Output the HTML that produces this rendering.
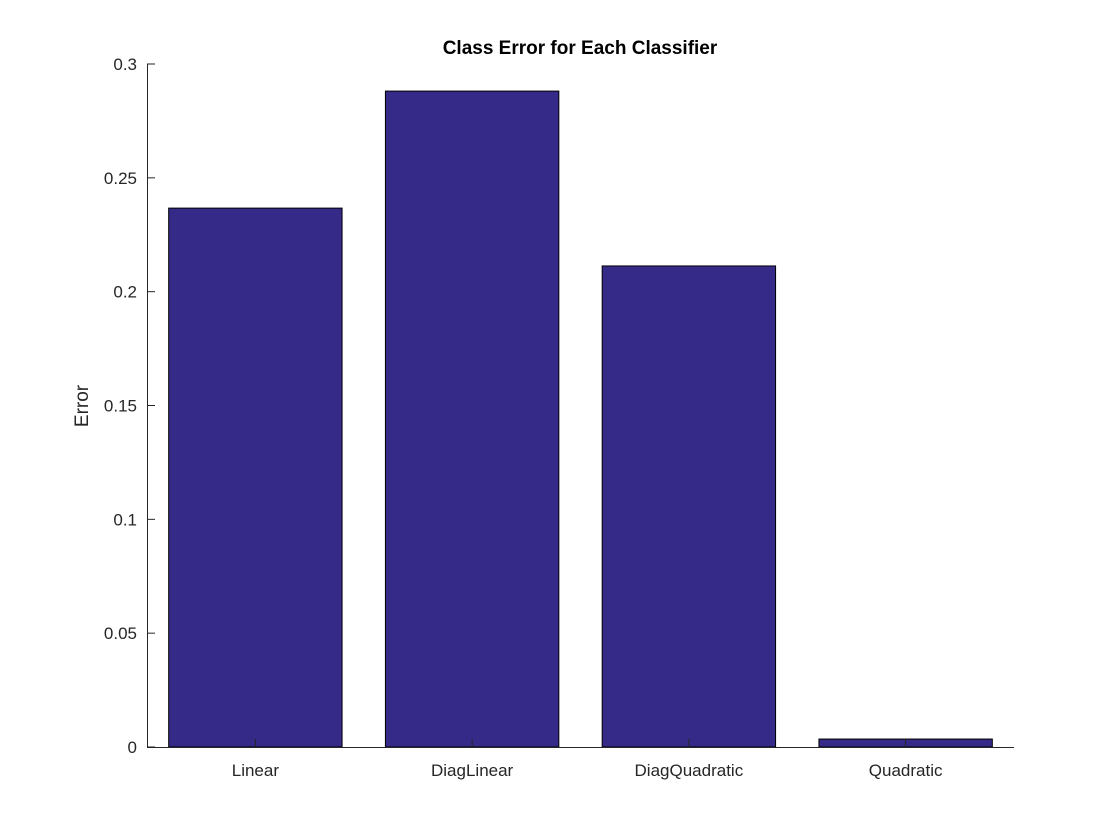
<!DOCTYPE html>
<html><head><meta charset="utf-8"><style>
body{margin:0;background:#fff;}
svg{display:block;font-family:"Liberation Sans",Arial,sans-serif;}
</style></head><body>
<svg id="chart" width="1120" height="840" viewBox="0 0 1120 840" xmlns="http://www.w3.org/2000/svg">
<rect width="1120" height="840" fill="#fff"/>
<text x="580" y="54" text-anchor="middle" font-size="19" font-weight="bold" fill="#000">Class Error for Each Classifier</text>
<text transform="translate(88,406) rotate(-90)" text-anchor="middle" font-size="19" fill="#262626">Error</text>
<g id="bars"></g>
<g id="axes"></g>
</svg>
<script>
const categories = ["Linear","DiagLinear","DiagQuadratic","Quadratic"];
const errors = [0.2367, 0.2881, 0.2113, 0.0035];
const yTicks = [0, 0.05, 0.1, 0.15, 0.2, 0.25, 0.3];
const yTickLabels = ["0","0.05","0.1","0.15","0.2","0.25","0.3"];

const NS = "http://www.w3.org/2000/svg";
const plotLeft = 147, plotRight = 1014, plotTop = 64, plotBottom = 747;
const xScale = v => plotLeft + (v - 0.5) / categories.length * (plotRight - plotLeft);
const yScale = v => plotBottom - v / 0.3 * (plotBottom - plotTop);
function mk(tag, attrs, parent){const e=document.createElementNS(NS,tag);for(const k in attrs)e.setAttribute(k,attrs[k]);parent.appendChild(e);return e;}
const barsG = document.getElementById('bars');
const axesG = document.getElementById('axes');
categories.forEach((c,i)=>{
  const x0 = xScale(i+1-0.4), x1 = xScale(i+1+0.4);
  const r = mk('rect',{x:x0,y:yScale(errors[i]),width:x1-x0,height:plotBottom-yScale(errors[i]),fill:'#352a87',stroke:'#000','stroke-width':1},barsG);
  
  
  const t = mk('text',{x:xScale(i+1),y:plotBottom+29,'text-anchor':'middle','font-size':17,fill:'#262626'},axesG);
  t.textContent = c;
  
  
  const tk = mk('line',{x1:xScale(i+1),x2:xScale(i+1),y1:plotBottom,y2:plotBottom-8,stroke:'#262626'},axesG);
  
  
});
const xa = mk('line',{x1:plotLeft,x2:plotRight,y1:plotBottom+0.5,y2:plotBottom+0.5,stroke:'#262626'},axesG);


const ya = mk('line',{x1:plotLeft+0.5,x2:plotLeft+0.5,y1:plotTop,y2:plotBottom,stroke:'#262626'},axesG);


yTicks.forEach((v,i)=>{
  const y = yScale(v);
  const tk = mk('line',{x1:plotLeft,x2:plotLeft+8,y1:y,y2:y,stroke:'#262626'},axesG);
  
  
  const t = mk('text',{x:plotLeft-10,y:y+6,'text-anchor':'end','font-size':17,fill:'#262626'},axesG);
  t.textContent = yTickLabels[i];
  
  
});
</script>
</body></html>
